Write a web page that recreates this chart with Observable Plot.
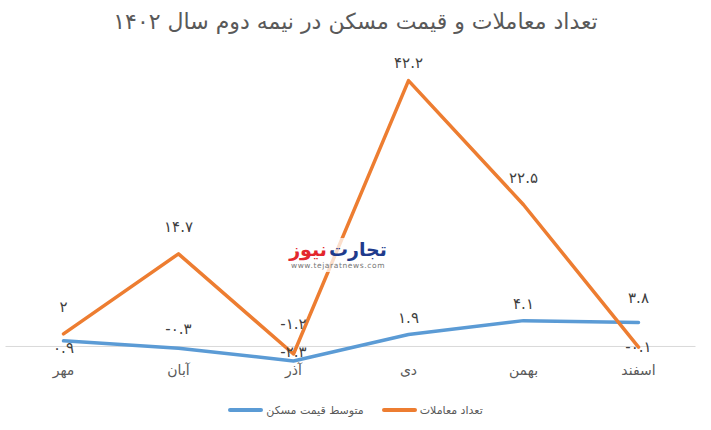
<!DOCTYPE html>
<html><head><meta charset="utf-8">
<script src="https://cdn.jsdelivr.net/npm/d3@7"></script>
<script src="https://cdn.jsdelivr.net/npm/@observablehq/plot@0.6"></script>
<style>
body{margin:0;background:#fff;font-family:"DejaVu Sans",sans-serif;}
#wrap{position:relative;width:711px;height:430px;overflow:hidden;background:#fff}
#title{height:44px;line-height:44px;text-align:center;font-size:22px;color:#595959;direction:rtl}
#chart svg{display:block}
#legend{position:absolute;left:0;top:400px;width:711px;height:20px;display:flex;justify-content:center;align-items:center;font-size:11px;color:#595959}
.item{display:flex;align-items:center;margin:0 9px}
.sw{display:inline-block;width:35px;height:4px;border-radius:2px;margin-right:3px}
#logo{position:absolute;left:284px;top:238px;width:108px;height:34px;background:rgba(255,255,255,0.75);text-align:center;direction:rtl;white-space:nowrap}
#logo .t{font-size:19px;font-weight:bold;line-height:23px;white-space:nowrap}
#logo .t span{display:inline-block}
#logo .u{font-size:7.5px;color:#777;direction:ltr;letter-spacing:0.6px;line-height:9px}
</style></head><body>
<div id="wrap">
<div id="title">تعداد معاملات و قیمت مسکن در نیمه دوم سال ۱۴۰۲</div>
<div id="chart"></div>
<div id="logo"><div class="t"><span style="color:#1f3b8c">تجارت</span><span style="color:#e3262c;margin-right:2px">نیوز</span></div><div class="u">www.tejaratnews.com</div></div>
<div id="legend"></div>
</div>
<script>
const months = ["مهر","آبان","آذر","دی","بهمن","اسفند"];
const transactions = [2, 14.7, -1.2, 42.2, 22.5, -0.1];
const price = [0.9, -0.3, -2.3, 1.9, 4.1, 3.8];
const seriesNames = ["تعداد معاملات", "متوسط قیمت مسکن"];
const colors = ["#ED7D31", "#5B9BD5"];

const faDigits = "۰۱۲۳۴۵۶۷۸۹";
const fa = v => String(v).replace(/[0-9]/g, c => faDigits[+c]);

const rows = (vals, s) => vals.map((v, i) => ({month: months[i], value: v, series: s, i}));
const tData = rows(transactions, seriesNames[0]);
const pData = rows(price, seriesNames[1]);

const lbl = (data, idx, dy) => Plot.text(data.filter(d => idx.includes(d.i)), {
  x: "month", y: "value", text: d => fa(d.value), dy,
  fontSize: 15, fill: "#404040", textAnchor: "middle"
});

const chart = Plot.plot({
  width: 711, height: 348,
  marginLeft: 5.5, marginRight: 15.5, marginTop: 18.5, marginBottom: 24,
  style: {fontFamily: "'DejaVu Sans', sans-serif", background: "#fff"},
  x: {type: "point", domain: months, padding: 0.5},
  y: {domain: [-3.5, 45], axis: null},
  marks: [
    Plot.ruleY([0], {stroke: "#d9d9d9", strokeWidth: 1}),
    Plot.axisX({tickSize: 0, tickPadding: -3, fontSize: 14, color: "#595959", label: null}),
    Plot.line(pData, {x: "month", y: "value", stroke: colors[1], strokeWidth: 3.5, strokeLinejoin: "round", strokeLinecap: "round"}),
    Plot.line(tData, {x: "month", y: "value", stroke: colors[0], strokeWidth: 3.5, strokeLinejoin: "round", strokeLinecap: "round"}),
    lbl(tData, [0, 1, 4], -27),
    lbl(tData, [2], -30),
    lbl(tData, [3], -17),
    lbl(tData, [5], 0),
    lbl(pData, [0], 7),
    lbl(pData, [1], -19),
    lbl(pData, [2], -9),
    lbl(pData, [3, 4], -16),
    lbl(pData, [5], -24)
  ]
});
document.getElementById("chart").appendChild(chart);

const legend = document.getElementById("legend");
[[seriesNames[1], colors[1]], [seriesNames[0], colors[0]]].forEach(([name, c]) => {
  const it = document.createElement("div");
  it.className = "item";
  it.innerHTML = `<span class="sw" style="background:${c}"></span><span>${name}</span>`;
  legend.appendChild(it);
});
</script>
</body></html>
